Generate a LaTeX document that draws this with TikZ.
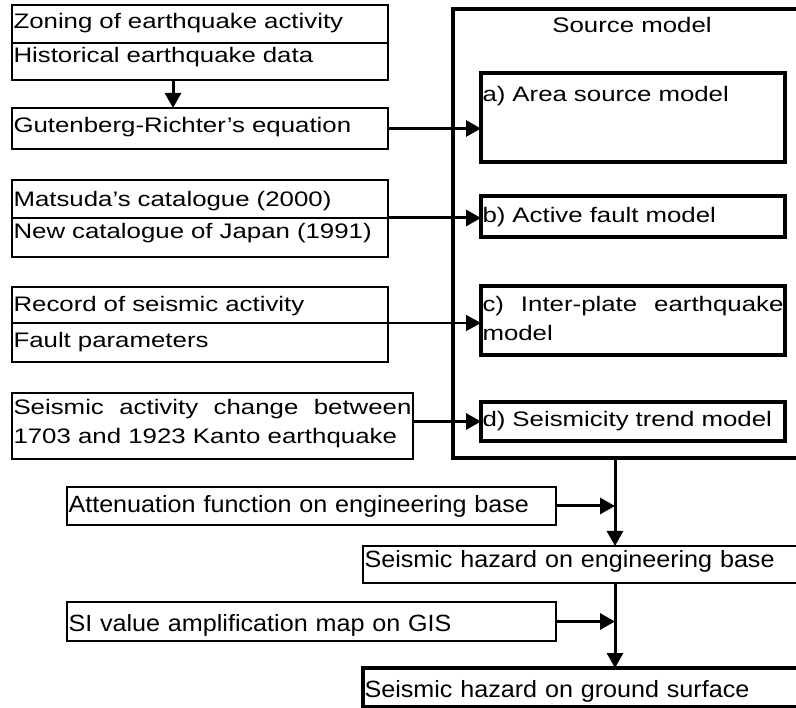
\documentclass[tikz,border=0pt]{standalone}
\usepackage{fontspec}
\setmainfont{Liberation Sans}
\newfontfamily\topfam[FakeStretch=1.23]{Liberation Sans}
\newfontfamily\botfam[FakeStretch=1.07]{Liberation Sans}
\usetikzlibrary{arrows.meta}
\tolerance=9999
\hyphenpenalty=10000
\newcommand\tfnt{\topfam\fontsize{21}{29}\selectfont}
\newcommand\bfnt{\botfam\fontsize{23.5}{28}\selectfont}
\newcommand\mybox[8]{%
  \pgfmathsetmacro\bxw{#4-#2-3}%
  \pgfmathsetmacro\bxh{#6-#3}%
  \pgfmathsetmacro\bxd{#5-#6}%
  \node[#7, anchor=north west, inner xsep=1.5pt, inner ysep=0pt, outer sep=0pt,
        text width=\bxw pt, text height=\bxh pt, text depth=\bxd pt] (#1) at (#2,#3) {#8};}
\tikzset{
  thinbox/.style={draw, line width=2.2pt, align=left},
  thickbox/.style={draw, line width=4.2pt, align=left},
  tfont/.style={font=\tfnt},
  bfont/.style={font=\bfnt},
  arr/.style={line width=3pt, -{Triangle[length=15pt,width=16pt]}},
  arrthin/.style={line width=1.4pt, -{Triangle[length=15pt,width=16pt]}}
}
\begin{document}
\begin{tikzpicture}[x=1pt,y=-1pt]
\useasboundingbox (0,0) rectangle (796,708);
\clip (0,0) rectangle (796,708);
% left input boxes
\mybox{zon}{12}{5}{388}{43}{29}{thinbox,tfont}{Zoning of earthquake activity}
\mybox{his}{12}{43}{388}{80}{63}{thinbox,tfont}{Historical earthquake data}
\mybox{gr}{12}{108}{388}{149}{133}{thinbox,tfont}{Gutenberg-Richter’s equation}
\mybox{mat}{12}{180}{388}{218}{207}{thinbox,tfont}{Matsuda’s catalogue (2000)}
\mybox{new}{12}{218}{388}{257}{239}{thinbox,tfont}{New catalogue of Japan (1991)}
\mybox{rec}{12}{287}{388}{323}{312}{thinbox,tfont}{Record of seismic activity}
\mybox{flt}{12}{323}{388}{362}{348}{thinbox,tfont}{Fault parameters}
\mybox{chg}{12}{393}{413}{459}{415}{thinbox,tfont,align=justify}{Seismic activity change between 1703 and 1923 Kanto earthquake}
% source model
\node[draw, line width=4.2pt, anchor=north west, inner sep=0pt, outer sep=0pt,
      minimum width=350pt, minimum height=449pt] (src) at (453,9) {};
\node[font=\tfnt, anchor=base, inner sep=0pt] (srct) at (632,33) {Source model};
\mybox{ba}{481}{73}{785}{162}{102}{thickbox,tfont}{a) Area source model}
\mybox{bb}{481}{196}{785}{237}{223}{thickbox,tfont}{b) Active fault model}
\mybox{bc}{481}{286}{785}{355}{312}{thickbox,tfont,align=justify}{c) Inter-plate earthquake model}
\mybox{bd}{481}{402}{785}{441}{427}{thickbox,tfont}{d) Seismicity trend model}
% lower chain
\mybox{att}{67}{487}{556}{525}{513}{thinbox,bfont}{Attenuation function on engineering base}
\mybox{eng}{363}{546}{803}{583}{568}{thinbox,bfont}{Seismic hazard on engineering base}
\mybox{si}{67}{602}{556}{641}{631}{thinbox,bfont}{SI value amplification map on GIS}
\mybox{gnd}{363}{668}{803}{707.5}{697}{thickbox,bfont}{Seismic hazard on ground surface}
% helper coordinates
\coordinate (ax) at (173,0);
\coordinate (jx) at (615,0);
% connectors
\draw[arr] (his.south -| ax) -- (gr.north -| ax);
\draw[arr] (gr.east) -- (ba.west |- gr.east);
\draw[arr] (mat.south east) -- (bb.west |- mat.south east);
\draw[arrthin] (rec.south east) -- (bc.west |- rec.south east);
\draw[arr] (bd.west -| chg.east) -- (bd.west);
\draw[arr] (src.south -| jx) -- (eng.north -| jx);
\draw[arr] (att.east) -- (att.east -| jx);
\draw[arr] (eng.south -| jx) -- (gnd.north -| jx);
\draw[arr] (si.east) -- (si.east -| jx);
\end{tikzpicture}
\end{document}
